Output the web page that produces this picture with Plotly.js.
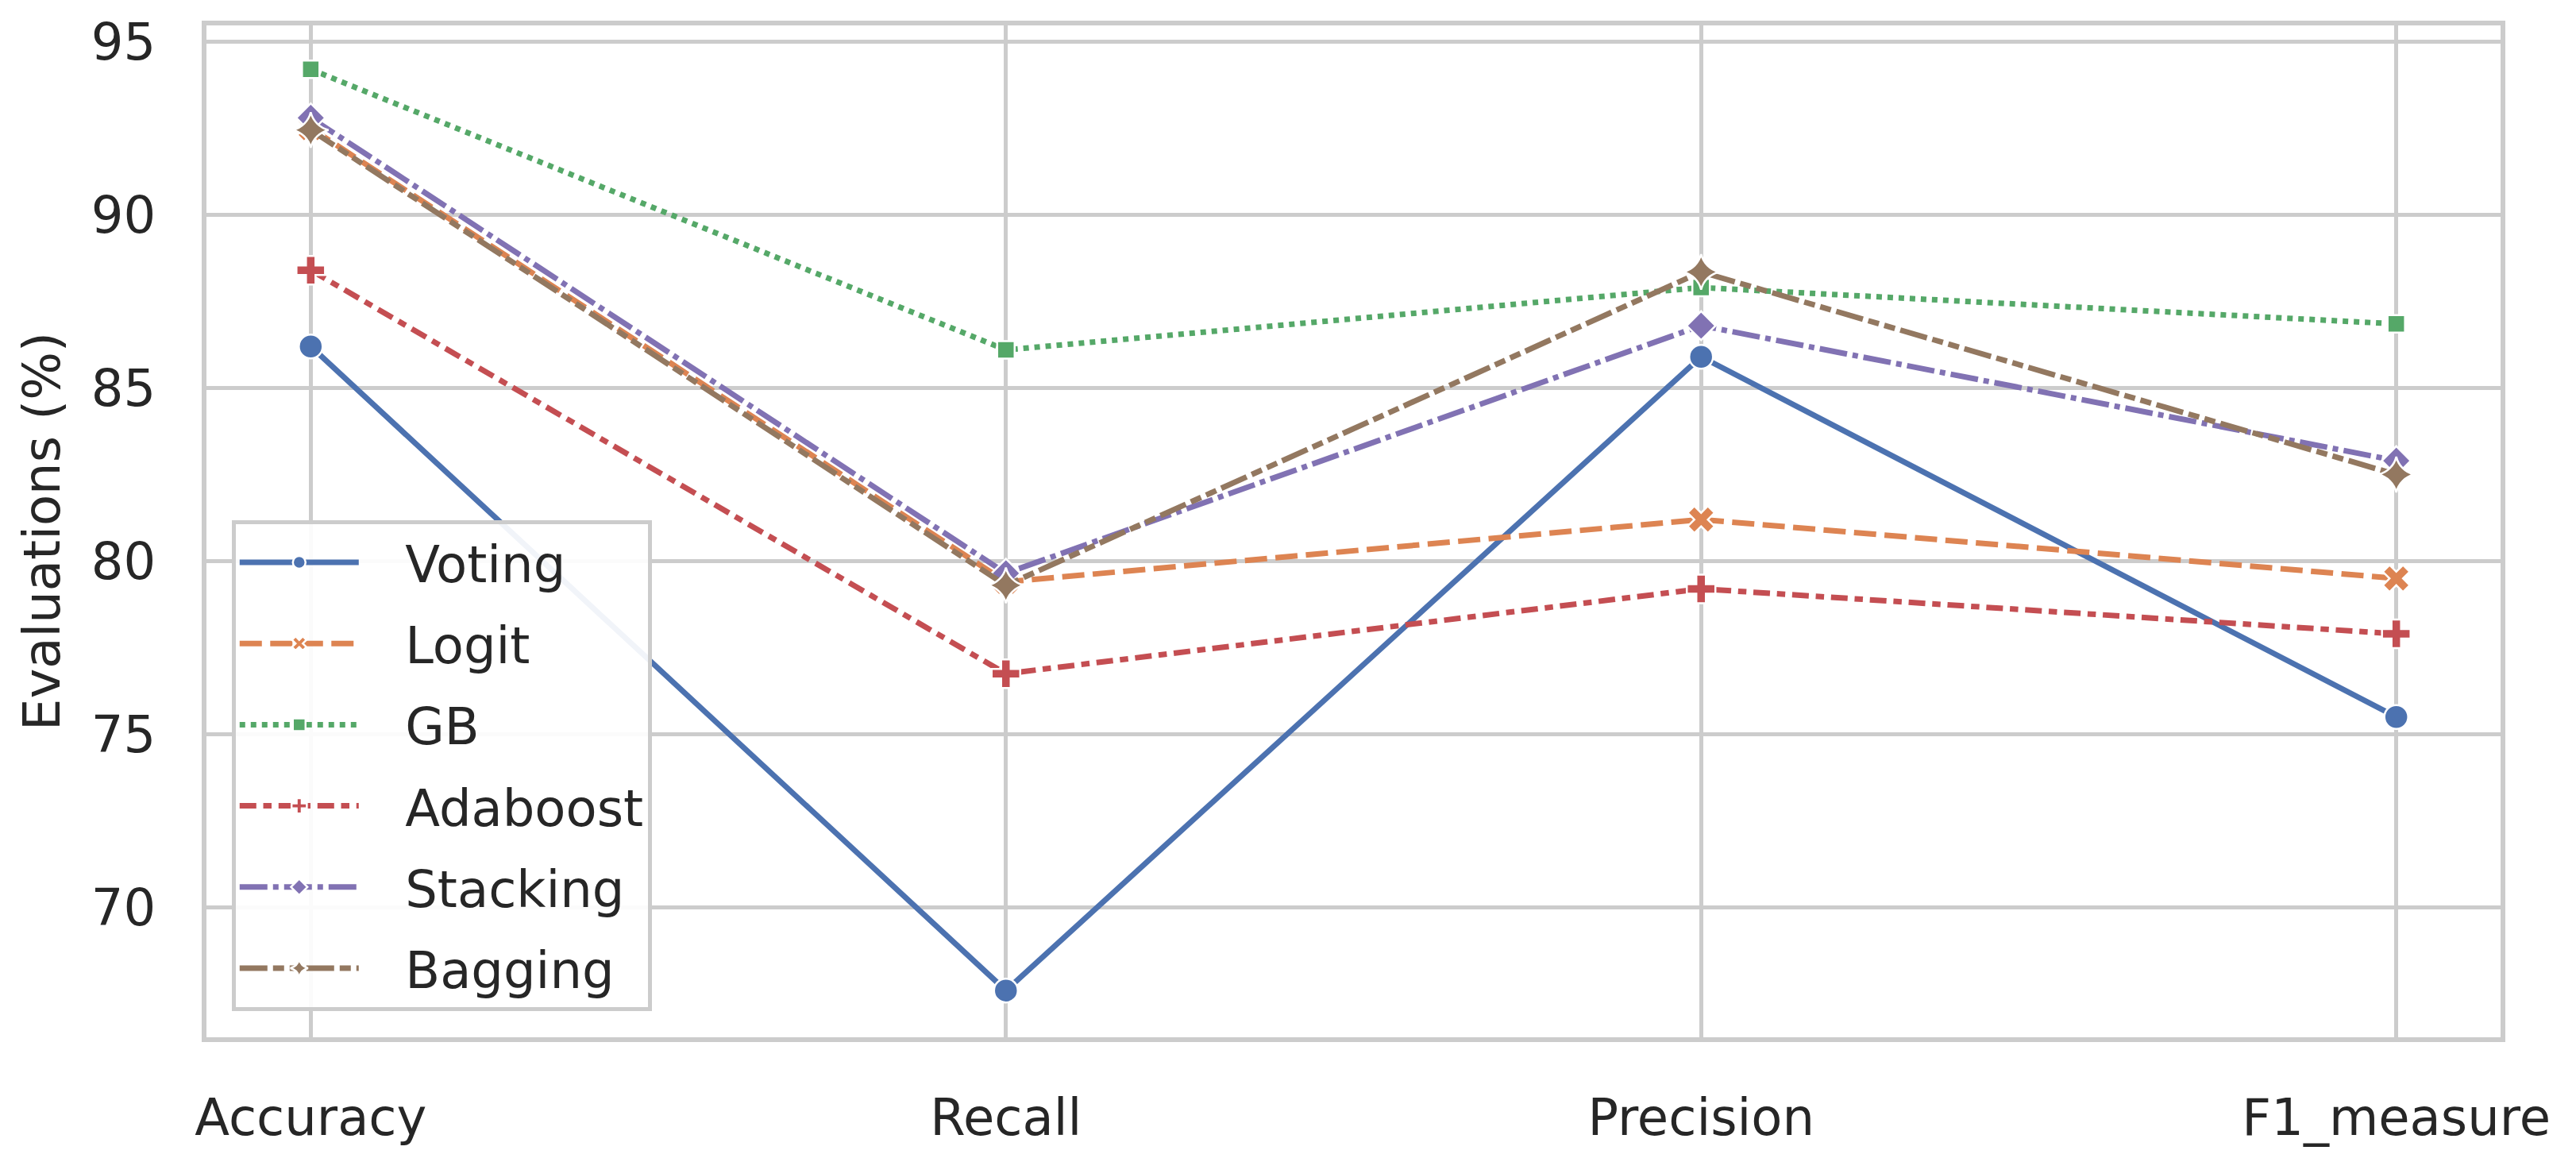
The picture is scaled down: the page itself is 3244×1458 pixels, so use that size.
<!DOCTYPE html>
<html>
<head>
<meta charset="utf-8">
<script src="https://cdn.plot.ly/plotly-3.0.1.min.js"></script>
<style>
  html, body { margin: 0; padding: 0; background: #ffffff; }
  #chart { width: 3244px; height: 1458px; }
</style>
</head>
<body>
<div id="chart"></div>
<script>
const categories = ["Accuracy", "Recall", "Precision", "F1_measure"];
const seriesNames = ["Voting", "Logit", "GB", "Adaboost", "Stacking", "Bagging"];
const voting   = [86.2, 67.6, 85.9, 75.5];
const logit    = [92.5, 79.4, 81.2, 79.5];
const gb       = [94.2, 86.1, 87.9, 86.85];
const adaboost = [88.4, 76.75, 79.2, 77.9];
const stacking = [92.8, 79.65, 86.8, 82.9];
const bagging  = [92.45, 79.3, 88.35, 82.5];
const yTicks = [70, 75, 80, 85, 90, 95];

const seriesValues = [voting, logit, gb, adaboost, stacking, bagging];
const colors = ["#4c72b0", "#dd8452", "#55a868", "#c44e52", "#8172b3", "#937860"];
const LW = 7;
const dashes = [
  "solid",
  (4*LW)+"px,"+(1.5*LW)+"px",
  (1*LW)+"px,"+(1*LW)+"px",
  (3*LW)+"px,"+(1.25*LW)+"px,"+(1.5*LW)+"px,"+(1.25*LW)+"px",
  (5*LW)+"px,"+(1*LW)+"px,"+(1*LW)+"px,"+(1*LW)+"px",
  (5*LW)+"px,"+(1*LW)+"px,"+(2*LW)+"px,"+(1*LW)+"px,"+(2*LW)+"px,"+(1*LW)+"px"
];
const symbols = ["circle", "x", "square", "cross", "diamond", "star-diamond"];
const msizes = [30, 30, 22, 30, 28, 32];

const traces = seriesNames.map((name, i) => ({
  type: "scatter",
  mode: "lines+markers",
  name: "\u00a0\u00a0\u2009" + name,
  legendgroup: "g" + i,
  x: categories,
  y: seriesValues[i],
  line: { color: colors[i], width: LW, dash: dashes[i] },
  marker: { symbol: symbols[i], size: msizes[i], color: colors[i],
            line: { color: "#ffffff", width: 2.5 } }
}));

const font = { family: "DejaVu Sans, sans-serif", size: 64, color: "#262626" };

const layout = {
  width: 3244, height: 1458,
  paper_bgcolor: "#ffffff", plot_bgcolor: "#ffffff",
  font: font,
  margin: { l: 260, r: 95, t: 32, b: 152 },
  showlegend: true,
  legend: {
    x: 0.011, y: 0.026, xanchor: "left", yanchor: "bottom",
    bgcolor: "rgba(255,255,255,0.92)", bordercolor: "#cccccc", borderwidth: 5,
    font: { family: "DejaVu Sans, sans-serif", size: 64, color: "#262626" },
    itemwidth: 150, tracegroupgap: 16
  },
  xaxis: {
    type: "category",
    range: [-0.15, 3.15],
    showgrid: true, gridcolor: "#cccccc", gridwidth: 5,
    showline: true, mirror: true, linecolor: "#cccccc", linewidth: 6,
    zeroline: false, ticks: "",
    ticklabelstandoff: 40,
    tickfont: { family: "DejaVu Sans, sans-serif", size: 64, color: "#262626" }
  },
  yaxis: {
    range: [66.25, 95.47],
    tickvals: yTicks,
    ticktext: yTicks.map(String),
    showgrid: true, gridcolor: "#cccccc", gridwidth: 5,
    showline: true, mirror: true, linecolor: "#cccccc", linewidth: 6,
    zeroline: false, ticks: "",
    ticklabelstandoff: 45,
    tickfont: { family: "DejaVu Sans, sans-serif", size: 64, color: "#262626" },
    title: { text: "Evaluations (%)", font: { family: "DejaVu Sans, sans-serif", size: 64, color: "#262626" }, standoff: 20 }
  }
};

Plotly.newPlot("chart", traces, layout, { displayModeBar: false, staticPlot: true });
</script>
</body>
</html>
